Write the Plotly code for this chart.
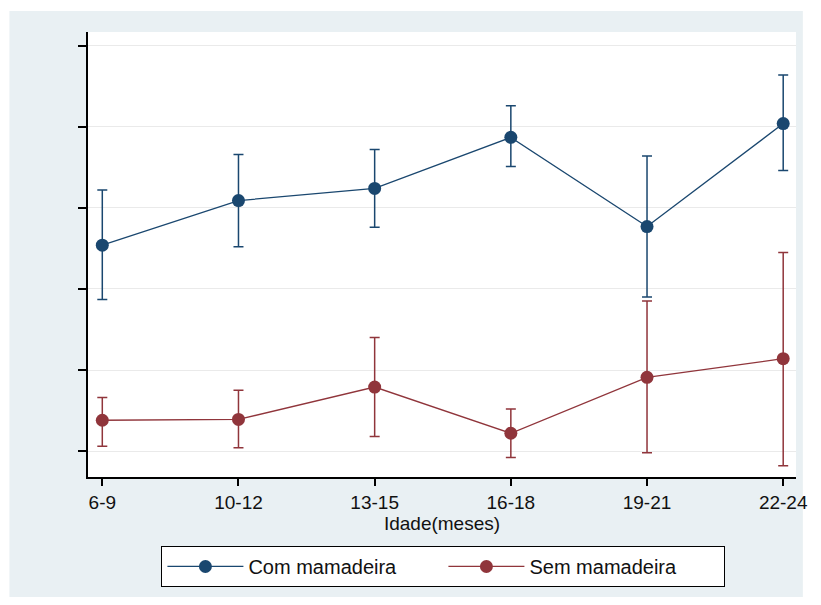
import plotly.graph_objects as go

ages = ["6-9", "10-12", "13-15", "16-18", "19-21", "22-24"]

com_mean = [25.4, 30.9, 32.4, 38.7, 27.7, 40.4]
com_low = [18.7, 25.2, 27.6, 35.1, 19.0, 34.6]
com_high = [32.2, 36.6, 37.2, 42.6, 36.4, 46.4]

sem_mean = [3.8, 3.9, 7.9, 2.2, 9.1, 11.4]
sem_low = [0.6, 0.4, 1.8, -0.8, -0.2, -1.8]
sem_high = [6.6, 7.5, 14.0, 5.2, 18.5, 24.5]

y_ticks = [0, 10, 20, 30, 40, 50]

BLUE = "#1a476f"
RED = "#90353b"
BG = "#e9f0f3"
FONT = "Liberation Sans, Arial, sans-serif"


def trace(name, mean, low, high, color):
    return go.Scatter(
        x=ages, y=mean, name=name, mode="lines+markers",
        line=dict(color=color, width=1.3),
        marker=dict(color=color, size=13, symbol="circle"),
        error_y=dict(
            type="data", symmetric=False,
            array=[h - m for h, m in zip(high, mean)],
            arrayminus=[m - l for m, l in zip(mean, low)],
            color=color, thickness=1.5, width=5,
        ),
    )


fig = go.Figure()
fig.add_trace(trace("Com mamadeira", com_mean, com_low, com_high, BLUE))
fig.add_trace(trace("Sem mamadeira", sem_mean, sem_low, sem_high, RED))

fig.update_layout(
    width=805, height=589,
    margin=dict(l=80, r=5, t=24, b=120),
    paper_bgcolor="white",
    plot_bgcolor="white",
    font=dict(family=FONT, color="#111111", size=19),
    showlegend=True,
    shapes=[
        dict(type="rect", xref="paper", yref="paper",
             x0=-0.111, x1=1.0097, y0=-0.2764, y1=1.0472,
             fillcolor=BG, line=dict(width=0), layer="below"),
        dict(type="rect", xref="paper", yref="paper",
             x0=0, x1=1, y0=0, y1=1,
             fillcolor="white", line=dict(width=0), layer="below"),
    ],
    legend=dict(
        orientation="h", x=0.502, xanchor="center", y=-0.155, yanchor="top",
        bgcolor="white", bordercolor="black", borderwidth=1,
        font=dict(family=FONT, size=20, color="#111111"),
        itemwidth=76, entrywidth=190, entrywidthmode="pixels",
        tracegroupgap=0,
    ),
    xaxis=dict(
        type="category", range=[-0.105, 5.094],
        showgrid=False, zeroline=False,
        showline=True, linecolor="black", linewidth=1.5,
        ticks="outside", ticklen=7, tickcolor="black", tickwidth=1.5,
        tickfont=dict(family=FONT, size=19, color="#111111"),
        title=dict(text="Idade(meses)", font=dict(family=FONT, size=19, color="#111111"), standoff=0),
    ),
    yaxis=dict(
        range=[-3.2, 51.7], tickvals=y_ticks, showticklabels=False,
        showgrid=True, gridcolor="#eaeaea", gridwidth=1, zeroline=False,
        showline=True, linecolor="black", linewidth=1.5,
        ticks="outside", ticklen=8, tickcolor="black", tickwidth=1.5,
    ),
)

fig.write_html("out.html")
